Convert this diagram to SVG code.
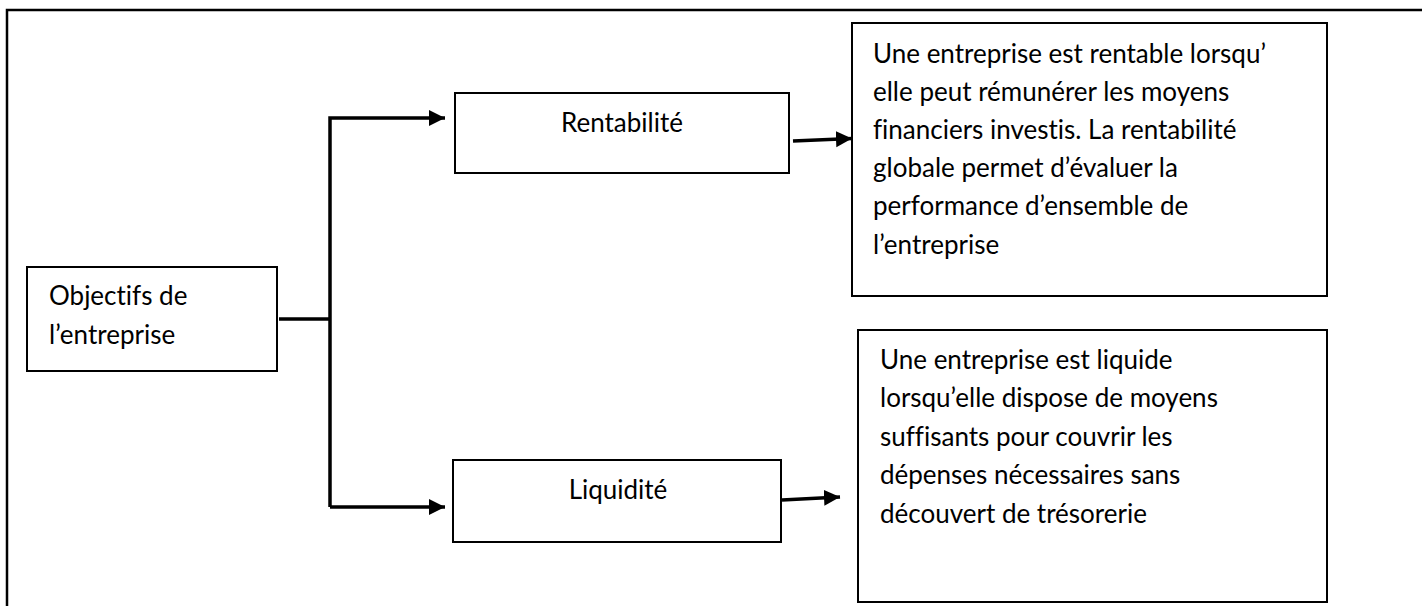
<svg xmlns="http://www.w3.org/2000/svg" width="1422" height="606" viewBox="0 0 1422 606">
<defs>
<marker id="ah" markerUnits="userSpaceOnUse" markerWidth="17" markerHeight="17" refX="16" refY="8" orient="auto">
<path d="M0,0 L16,8 L0,16 Z" fill="#000"/>
</marker>
<style>
.box{fill:#fff;stroke:#000;stroke-width:2}
.t{font-family:Lato,"Liberation Sans",sans-serif;font-size:26px;fill:#000;font-variant-ligatures:none;font-feature-settings:"liga" 0,"clig" 0}
.c{fill:none;stroke:#000;stroke-width:3.5}
</style>
</defs>
<rect width="1422" height="606" fill="#fff"/>
<path d="M7,606 V10 H1422" fill="none" stroke="#000" stroke-width="2.5"/>
<g id="objectifs">
<rect class="box" x="27" y="267" width="250" height="104"/>
<text class="t" x="49" y="305">Objectifs de</text>
<text class="t" x="49" y="344">l’entreprise</text>
</g>
<g id="rentabilite">
<rect class="box" x="455" y="93" width="334" height="80"/>
<text class="t" x="622" y="132" text-anchor="middle">Rentabilité</text>
</g>
<g id="liquidite">
<rect class="box" x="453" y="460" width="328" height="82"/>
<text class="t" x="618" y="499" text-anchor="middle">Liquidité</text>
</g>
<g id="desc-rentabilite">
<rect class="box" x="852" y="23" width="475" height="273"/>
<text class="t" x="873" y="63">Une entreprise est rentable lorsqu’</text>
<text class="t" x="873" y="101">elle peut rémunérer les moyens</text>
<text class="t" x="873" y="139">financiers investis. La rentabilité</text>
<text class="t" x="873" y="177">globale permet d’évaluer la</text>
<text class="t" x="873" y="215">performance d’ensemble de</text>
<text class="t" x="873" y="254">l’entreprise</text>
</g>
<g id="desc-liquidite">
<rect class="box" x="858" y="330" width="469" height="272"/>
<text class="t" x="880" y="369">Une entreprise est liquide</text>
<text class="t" x="880" y="407">lorsqu’elle dispose de moyens</text>
<text class="t" x="880" y="446">suffisants pour couvrir les</text>
<text class="t" x="880" y="484">dépenses nécessaires sans</text>
<text class="t" x="880" y="523">découvert de trésorerie</text>
</g>
<g id="connectors">
<path class="c" d="M279,319 H330"/>
<path class="c" d="M330,507 V118 H445" marker-end="url(#ah)"/>
<path class="c" d="M330,507 H445" marker-end="url(#ah)"/>
<path class="c" d="M793,141 L852,138.5" marker-end="url(#ah)"/>
<path class="c" d="M782,500 L840,497" marker-end="url(#ah)"/>
</g>
</svg>
